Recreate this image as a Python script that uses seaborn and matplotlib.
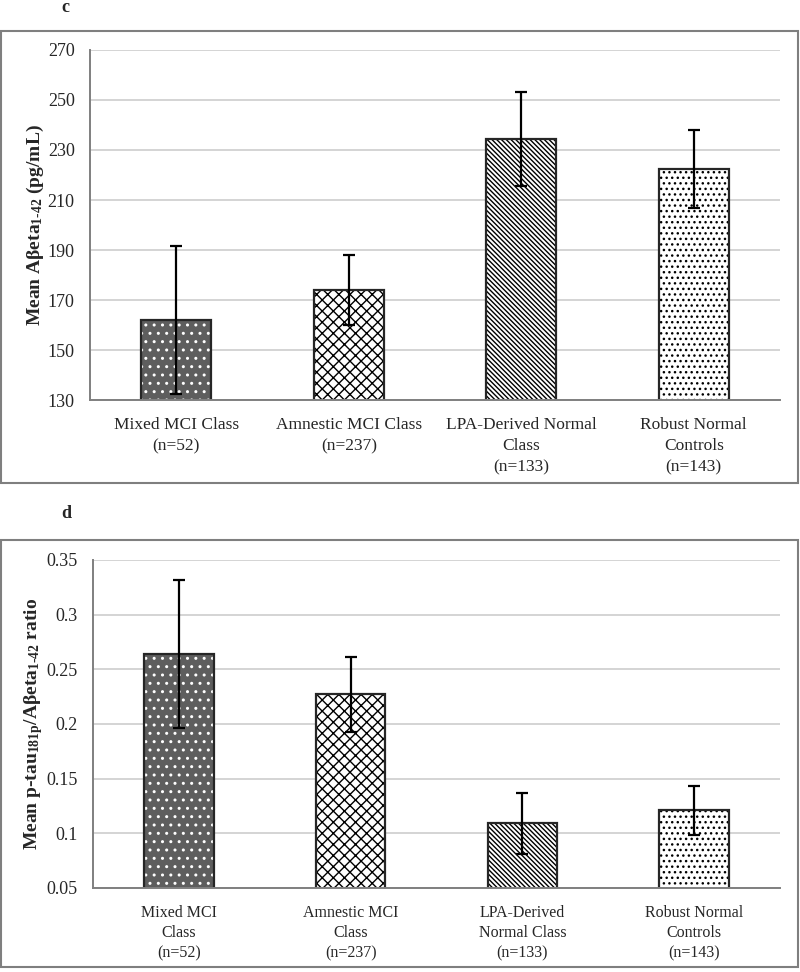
import matplotlib
matplotlib.use("Agg")
import matplotlib.pyplot as plt
from matplotlib.patches import Rectangle
import seaborn as sns
import pandas as pd

# ---- data ----
labels_c = ["Mixed MCI Class\n(n=52)", "Amnestic MCI Class\n(n=237)",
            "LPA-Derived Normal\nClass\n(n=133)", "Robust Normal\nControls\n(n=143)"]
mean_c = [162.0, 174.0, 234.4, 222.4]
err_c = [29.7, 13.8, 18.9, 15.5]
yticks_c = [130, 150, 170, 190, 210, 230, 250, 270]

labels_d = ["Mixed MCI\nClass\n(n=52)", "Amnestic MCI\nClass\n(n=237)",
            "LPA-Derived\nNormal Class\n(n=133)", "Robust Normal\nControls\n(n=143)"]
mean_d = [0.264, 0.227, 0.109, 0.121]
err_d = [0.068, 0.034, 0.028, 0.0225]
yticks_d = [0.05, 0.1, 0.15, 0.2, 0.25, 0.3, 0.35]
yticklabels_d = ["0.05", "0.1", "0.15", "0.2", "0.25", "0.3", "0.35"]

# ---- style ----
sns.set_style("white")
SERIF = ["Liberation Serif", "DejaVu Serif"]
plt.rcParams["font.family"] = SERIF
plt.rcParams["mathtext.fontset"] = "custom"
plt.rcParams["mathtext.rm"] = "Liberation Serif"
plt.rcParams["mathtext.bf"] = "Liberation Serif:bold"
plt.rcParams["mathtext.it"] = "Liberation Serif:italic"
plt.rcParams["hatch.linewidth"] = 1.0

fills = ["#5e5e5e", "white", "white", "white"]
hatch_colors = ["white", "black", "black", "black"]
hatches = ["..", "xxx", "\\\\\\\\\\\\\\", "..."]

W, H = 800, 972
fig = plt.figure(figsize=(W / 100, H / 100), dpi=100)

def fx(px):
    return px / W

def fy(py):
    return 1 - py / H

# panel frames
for (y0, y1) in [(31, 483), (540, 967)]:
    fig.add_artist(Rectangle((fx(1), fy(y1)), fx(797), (y1 - y0) / H,
                             transform=fig.transFigure, fill=False,
                             edgecolor="#7f7f7f", linewidth=1.5))

fig.text(fx(65), fy(7), "c", fontsize=13, fontweight="bold", ha="center", va="center")
fig.text(fx(66), fy(513), "d", fontsize=13, fontweight="bold", ha="center", va="center")


def draw(ax, labels, means, errs, yticks, yticklabels, ylim, ylabel,
         xfs, xls, xpad):
    df = pd.DataFrame({"cat": labels, "mean": means})
    sns.barplot(data=df, x="cat", y="mean", hue="cat", order=labels,
                hue_order=labels, palette=fills, legend=False,
                width=0.405, ax=ax, errorbar=None, saturation=1)
    for p, h, hc in zip(ax.patches, hatches, hatch_colors):
        p.set_hatch(h)
        p.set_edgecolor(hc)
        p.set_linewidth(0)
        ax.add_patch(Rectangle(p.get_xy(), p.get_width(), p.get_height(),
                               fill=False, edgecolor="#262626", linewidth=1.6,
                               zorder=p.get_zorder() + 0.1))
    ax.errorbar(range(len(labels)), means, yerr=errs, fmt="none",
                ecolor="black", elinewidth=1.6, capsize=4, capthick=1.6, zorder=5)
    ax.set_ylim(*ylim)
    ax.set_xlim(-0.5, len(labels) - 0.5)
    ax.set_yticks(yticks)
    ax.set_yticklabels(yticklabels, fontsize=13)
    ax.set_xticks(range(len(labels)))
    ax.set_xticklabels(labels, fontsize=xfs, linespacing=xls)
    ax.set_xticks([i - 0.5 for i in range(len(labels) + 1)], minor=True)
    ax.tick_params(axis="x", which="major", length=0, pad=xpad)
    ax.tick_params(axis="x", which="minor", length=6, width=1.2, color="#7f7f7f", direction="out")
    ax.tick_params(axis="y", length=6, width=1.2, color="#7f7f7f", direction="out", pad=5)
    ax.set_xlabel("")
    ax.set_ylabel(ylabel, fontsize=14, fontweight="bold", labelpad=1)
    ax.grid(axis="y", color="#d4d4d4", linewidth=1.4)
    ax.set_axisbelow(True)
    for s in ["top", "right"]:
        ax.spines[s].set_visible(False)
    for s in ["left", "bottom"]:
        ax.spines[s].set_color("#7f7f7f")
        ax.spines[s].set_linewidth(1.4)


ax1 = fig.add_axes([fx(90), fy(400), fx(690), (400 - 50) / H])
draw(ax1, labels_c, mean_c, err_c, yticks_c, [str(t) for t in yticks_c], (130, 270),
     r"Mean A$\mathbf{\beta}$eta$_{\mathbf{1\text{-}42}}$ (pg/mL)", 12.5, 1.45, 12)

ax2 = fig.add_axes([fx(93), fy(888), fx(687), (888 - 560) / H])
draw(ax2, labels_d, mean_d, err_d, yticks_d, yticklabels_d, (0.05, 0.35),
     r"Mean p-tau$_{\mathbf{181p}}$/A$\mathbf{\beta}$eta$_{\mathbf{1\text{-}42}}$ ratio", 11.5, 1.35, 12)

fig.savefig("out.png", dpi=100)
